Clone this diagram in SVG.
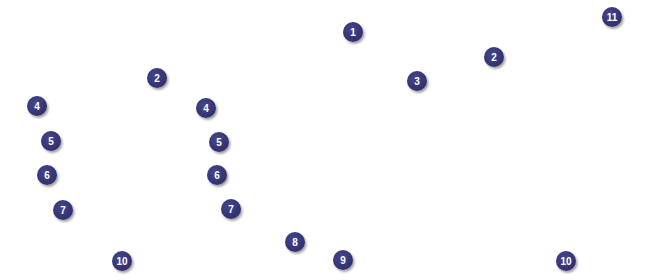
<svg xmlns="http://www.w3.org/2000/svg" width="645" height="280" viewBox="0 0 645 280">
<defs>
<filter id="sh" x="-50%" y="-50%" width="200%" height="200%">
<feDropShadow dx="1.5" dy="2" stdDeviation="1.2" flood-color="#888" flood-opacity="0.8"/>
</filter>
<radialGradient id="g" cx="40%" cy="35%" r="70%">
<stop offset="0" stop-color="#45458a"/>
<stop offset="1" stop-color="#2e2e6e"/>
</radialGradient>
</defs>
<style>
.b circle{fill:url(#g);filter:url(#sh);}
.b text{fill:#fff;font-family:"Liberation Sans",Arial,sans-serif;font-weight:bold;font-size:10px;text-anchor:middle;}
</style>
<rect width="645" height="280" fill="#fff"/>
<g id="connectors"></g>
<g id="n1" class="b"><circle cx="353" cy="32" r="10"/><text x="353" y="36">1</text></g>
<g id="n11" class="b"><circle cx="612" cy="17" r="10"/><text x="612" y="21">11</text></g>
<g id="n2a" class="b"><circle cx="157" cy="78" r="10"/><text x="157" y="82">2</text></g>
<g id="n2b" class="b"><circle cx="494" cy="57" r="10"/><text x="494" y="61">2</text></g>
<g id="n3" class="b"><circle cx="417" cy="81" r="10"/><text x="417" y="85">3</text></g>
<g id="n4a" class="b"><circle cx="37" cy="106" r="10"/><text x="37" y="110">4</text></g>
<g id="n4b" class="b"><circle cx="206" cy="108" r="10"/><text x="206" y="112">4</text></g>
<g id="n5a" class="b"><circle cx="51" cy="141" r="10"/><text x="51" y="145">5</text></g>
<g id="n5b" class="b"><circle cx="219" cy="142" r="10"/><text x="219" y="146">5</text></g>
<g id="n6a" class="b"><circle cx="47" cy="175" r="10"/><text x="47" y="179">6</text></g>
<g id="n6b" class="b"><circle cx="217" cy="175" r="10"/><text x="217" y="179">6</text></g>
<g id="n7a" class="b"><circle cx="63" cy="210" r="10"/><text x="63" y="214">7</text></g>
<g id="n7b" class="b"><circle cx="231" cy="209" r="10"/><text x="231" y="213">7</text></g>
<g id="n8" class="b"><circle cx="295" cy="242" r="10"/><text x="295" y="246">8</text></g>
<g id="n9" class="b"><circle cx="343" cy="260" r="10"/><text x="343" y="264">9</text></g>
<g id="n10a" class="b"><circle cx="122" cy="261" r="10"/><text x="122" y="265">10</text></g>
<g id="n10b" class="b"><circle cx="566" cy="261" r="10"/><text x="566" y="265">10</text></g>
</svg>
